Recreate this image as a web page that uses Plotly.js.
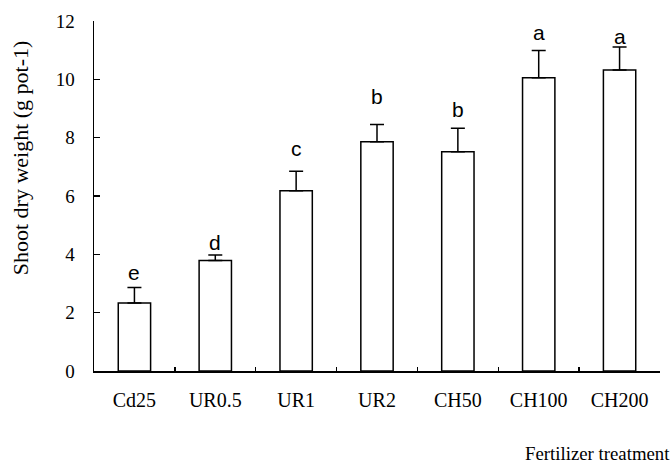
<!DOCTYPE html>
<html>
<head>
<meta charset="utf-8">
<script src="https://cdn.plot.ly/plotly-3.0.1.min.js"></script>
<style>html,body{margin:0;padding:0;background:#fff;}#chart{width:672px;height:474px;}</style>
</head>
<body>
<div id="chart"></div>
<script>
// Data
var categories = ["Cd25", "UR0.5", "UR1", "UR2", "CH50", "CH100", "CH200"];
var shootDryWeight = [2.33, 3.79, 6.18, 7.86, 7.52, 10.05, 10.32];
var errorUp = [0.53, 0.19, 0.67, 0.59, 0.80, 0.94, 0.79];
var significanceLetters = ["e", "d", "c", "b", "b", "a", "a"];
var letterHeights = [3.38, 4.40, 7.63, 9.41, 8.97, 11.61, 11.47];
var yTickValues = [0, 2, 4, 6, 8, 10, 12];

var serif = "Liberation Serif, Times New Roman, serif";
var sans = "Liberation Sans, Arial, sans-serif";

var trace = {
  type: "bar",
  x: categories,
  y: shootDryWeight,
  marker: {color: "#ffffff", line: {color: "#000000", width: 1.5}},
  error_y: {
    type: "data",
    symmetric: false,
    array: errorUp,
    arrayminus: errorUp.map(function(){return 0;}),
    color: "#000000",
    thickness: 1.5,
    width: 7
  },
  hoverinfo: "skip"
};

var annotations = categories.map(function(c, i) {
  return {
    x: c, y: letterHeights[i], xref: "x", yref: "y",
    text: significanceLetters[i], showarrow: false,
    xanchor: "center", yanchor: "middle",
    font: {family: sans, size: 21, color: "#000"}
  };
});
annotations.push({
  xref: "paper", yref: "paper", x: 1.0215, y: -0.237,
  xanchor: "right", yanchor: "middle", showarrow: false,
  text: "Fertilizer treatment",
  font: {family: serif, size: 18.8, color: "#000"}
});
annotations.push({
  xref: "paper", yref: "paper", x: -0.13, y: 0.609,
  xanchor: "center", yanchor: "middle", showarrow: false,
  textangle: -90,
  text: "Shoot dry weight (g pot-1)",
  font: {family: serif, size: 22, color: "#000"}
});

var layout = {
  width: 672, height: 474,
  margin: {l: 94, r: 12, t: 21, b: 103, pad: 0},
  paper_bgcolor: "#ffffff", plot_bgcolor: "#ffffff",
  showlegend: false,
  bargap: 0.6,
  font: {family: serif, color: "#000"},
  xaxis: {
    type: "category",
    showline: true, linecolor: "#000", linewidth: 1.5,
    ticks: "inside", tickson: "boundaries", ticklen: 4, tickwidth: 1.5, tickcolor: "#000",
    showgrid: false, zeroline: false,
    tickfont: {family: serif, size: 20, color: "#000"},
    ticklabelstandoff: 10
  },
  yaxis: {
    range: [0, 12],
    tickvals: yTickValues,
    ticktext: yTickValues.map(String),
    showline: true, linecolor: "#000", linewidth: 1.5,
    ticks: "inside", ticklen: 6, tickwidth: 1.5, tickcolor: "#000",
    showgrid: false, zeroline: false,
    tickfont: {family: serif, size: 19, color: "#000"},
    ticklabelstandoff: 14
  },
  annotations: annotations
};

Plotly.newPlot("chart", [trace], layout, {displayModeBar: false, staticPlot: true});
</script>
</body>
</html>
